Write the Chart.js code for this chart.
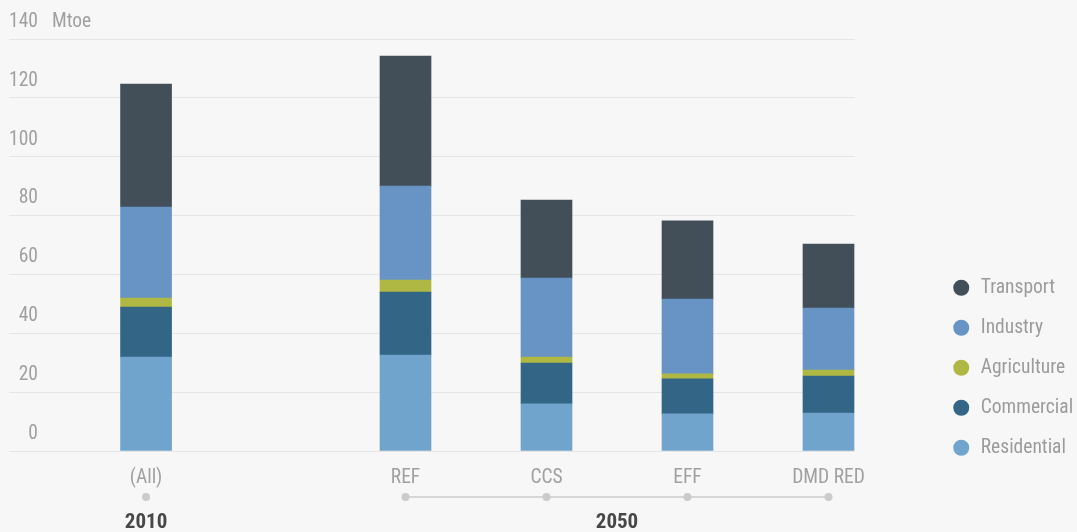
<!DOCTYPE html>
<html lang="en">
<head>
<meta charset="utf-8">
<title>Final energy consumption by sector</title>
<script src="https://cdn.jsdelivr.net/npm/chart.js@4.4.1/dist/chart.umd.min.js"></script>
<style>
  html, body { margin: 0; padding: 0; background: #f7f7f7; }
  .grafico-wrap { position: relative; width: 1077px; height: 532px; }
</style>
</head>
<body>
<div class="grafico-wrap"><canvas id="graf-setores"></canvas></div>
<script>
const TRANSPORTE = '#424f59', INDUSTRIA = '#6794c5', AGRICULTURA = '#b0b844',
      COMERCIAL = '#336587', RESIDENCIAL = '#70a4cc';
const TEXTO = '#a0a0a0', TEXTO_FORTE = '#474747', GRADE = '#e5e5e5', MARCADOR = '#cbcbcb';
const FONTE = "'Roboto Condensed', 'Liberation Sans Narrow', 'DejaVu Sans Condensed', Roboto, sans-serif";
const TAM = 19.5; // tamanho do texto comum

// valores (Mtoe), de baixo para cima na pilha
const cenarios     = ['(All)', 'REF', 'CCS', 'EFF', 'DMD RED'];
const anoDoCenario = ['2010', '2050', '2050', '2050', '2050'];
const residencial  = [31.9, 32.6, 16.0, 12.6, 12.9];
const comercial    = [17.0, 21.4, 13.9, 11.9, 12.6];
const agricultura  = [3.1, 4.1, 2.0, 1.7, 2.0];
const industria    = [30.9, 31.9, 26.9, 25.4, 21.1];
const transporte   = [41.8, 44.2, 26.5, 26.6, 21.7];
const ticksY       = [0, 20, 40, 60, 80, 100, 120, 140];

// layout do eixo x: 2010 fica mais afastado dos cenários de 2050
const DESLOC_2010 = 1.84;
const X_MIN = -2.812, X_MAX = 3.188;
const posicoes = cenarios.map((c, i) => (i === 0 ? -DESLOC_2010 : i - 1));

const fonte = (size, weight) => ({ family: FONTE, size, weight });

// pontos, linha e rótulos de ano debaixo do eixo + unidade ao lado do 140
const pluginAnos = {
  id: 'eixoAnos',
  afterDraw(chart) {
    const { ctx, chartArea, scales } = chart;
    const yPonto = chartArea.bottom + 46;
    const yAno = chartArea.bottom + 72;
    ctx.save();

    ctx.fillStyle = TEXTO;
    ctx.font = `${TAM}px ${FONTE}`;
    ctx.textAlign = 'left';
    ctx.textBaseline = 'middle';
    ctx.fillText('Mtoe', chartArea.left + 43, scales.y.getPixelForValue(ticksY[ticksY.length - 1]) - 17);

    [...new Set(anoDoCenario)].forEach((ano) => {
      const xs = posicoes.filter((p, i) => anoDoCenario[i] === ano).map((p) => scales.x.getPixelForValue(p));
      if (xs.length > 1) {
        ctx.strokeStyle = MARCADOR;
        ctx.lineWidth = 1.5;
        ctx.beginPath();
        ctx.moveTo(xs[0], yPonto);
        ctx.lineTo(xs[xs.length - 1], yPonto);
        ctx.stroke();
      }
      ctx.fillStyle = MARCADOR;
      xs.forEach((px) => {
        ctx.beginPath();
        ctx.arc(px, yPonto, 4, 0, Math.PI * 2);
        ctx.fill();
      });
      ctx.fillStyle = TEXTO_FORTE;
      ctx.font = `bold 21px ${FONTE}`;
      ctx.textAlign = 'center';
      ctx.fillText(ano, (xs[0] + xs[xs.length - 1]) / 2, yAno);
    });
    ctx.restore();
  },
};

new Chart(document.getElementById('graf-setores'), {
  type: 'bar',
  data: {
    labels: posicoes,
    datasets: [
      { label: 'Residential', data: residencial, backgroundColor: RESIDENCIAL },
      { label: 'Commercial',  data: comercial,   backgroundColor: COMERCIAL },
      { label: 'Agriculture', data: agricultura, backgroundColor: AGRICULTURA },
      { label: 'Industry',    data: industria,   backgroundColor: INDUSTRIA },
      { label: 'Transport',   data: transporte,  backgroundColor: TRANSPORTE },
    ],
  },
  options: {
    responsive: true, maintainAspectRatio: false, animation: false,
    barThickness: 51,
    layout: { padding: { left: 9, top: 39, right: 0, bottom: 54 } },
    scales: {
      x: {
        type: 'linear', stacked: true, offset: false, min: X_MIN, max: X_MAX,
        grid: { display: false }, border: { display: false },
        afterBuildTicks: (s) => { s.ticks = posicoes.map((v) => ({ value: v })); },
        afterFit: (s) => { s.height = 27; },
        // mirror evita o recorte dos rótulos na altura curta do eixo
        ticks: { mirror: true, padding: -39, color: TEXTO, font: fonte(TAM), maxRotation: 0, autoSkip: false,
                 callback: (v, i) => cenarios[i] },
      },
      y: {
        stacked: true, min: 0, max: 140,
        grid: { color: GRADE, drawTicks: false }, border: { display: false },
        afterBuildTicks: (s) => { s.ticks = ticksY.map((v) => ({ value: v })); },
        ticks: { mirror: true, crossAlign: 'far', padding: 0, labelOffset: -17, color: TEXTO, font: fonte(TAM) },
      },
      // eixo vazio só para abrir espaço entre as barras e a legenda
      folga: {
        type: 'linear', position: 'right',
        grid: { display: false }, border: { display: false }, ticks: { display: false },
        afterFit: (s) => { s.width = 76; },
      },
    },
    plugins: {
      legend: {
        position: 'right', align: 'end', reverse: true, maxWidth: 146,
        labels: { usePointStyle: true, pointStyle: 'circle', boxWidth: TAM, boxHeight: 11.3, padding: 40 - TAM,
                  color: '#9b9b9b', font: fonte(TAM) },
      },
      tooltip: { enabled: false },
    },
  },
  plugins: [pluginAnos],
});
</script>
</body>
</html>
